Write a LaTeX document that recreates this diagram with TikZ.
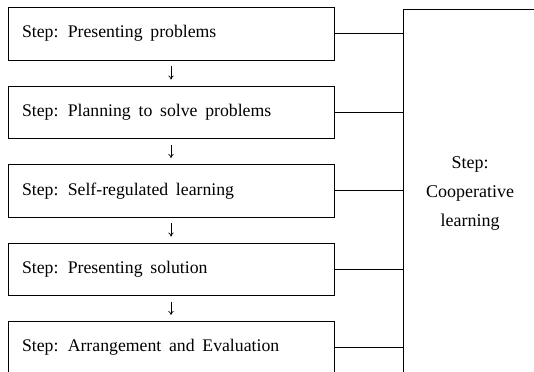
\documentclass[tikz,border=0pt]{standalone}
\usepackage{fontspec}
\setmainfont{Liberation Serif}
\usetikzlibrary{arrows.meta}
\tikzset{
  stepbox/.style={draw, line width=0.6pt, rectangle, text width=223.5pt, inner xsep=10.5pt,
    minimum height=39.4pt, align=left, font=\fontsize{13.3}{16}\selectfont,
    execute at begin node={\spaceskip=5.8pt\xspaceskip=7pt\relax}},
  flow/.style={-{To[length=3pt,width=4pt]}, line width=0.5pt, shorten <=4.5pt, shorten >=4.5pt},
  link/.style={line width=0.6pt}
}
\begin{document}
\begin{tikzpicture}[x=0.75pt,y=-0.75pt]
\clip (0,0) rectangle (534,371);
%Steps
\node[stepbox] (present) at (171,33.75) {Step: Presenting problems};
\node[stepbox] (plan) at (171,112.25) {Step: Planning to solve problems};
\node[stepbox] (self) at (171,190.75) {Step: Self-regulated learning};
\node[stepbox] (solution) at (171,269.25) {Step: Presenting solution};
\node[stepbox] (evaluation) at (171,347.75) {Step: Arrangement and Evaluation};

%Cooperative
\node[draw, line width=0.6pt, minimum width=100.5pt, minimum height=276.4pt, align=center,
  font=\fontsize{13.5}{22}\selectfont] (coop) at (470,193.5) {Step:\\Cooperative\\learning};

%Arrows
\draw[flow] (present) -- (plan);
\draw[flow] (plan) -- (self);
\draw[flow] (self) -- (solution);
\draw[flow] (solution) -- (evaluation);

%Links
\draw[link] (present.east) -- (coop.west |- present.east);
\draw[link] (plan.east) -- (coop.west |- plan.east);
\draw[link] (self.east) -- (coop.west |- self.east);
\draw[link] (solution.east) -- (coop.west |- solution.east);
\draw[link] (evaluation.east) -- (coop.west |- evaluation.east);
\end{tikzpicture}
\end{document}
